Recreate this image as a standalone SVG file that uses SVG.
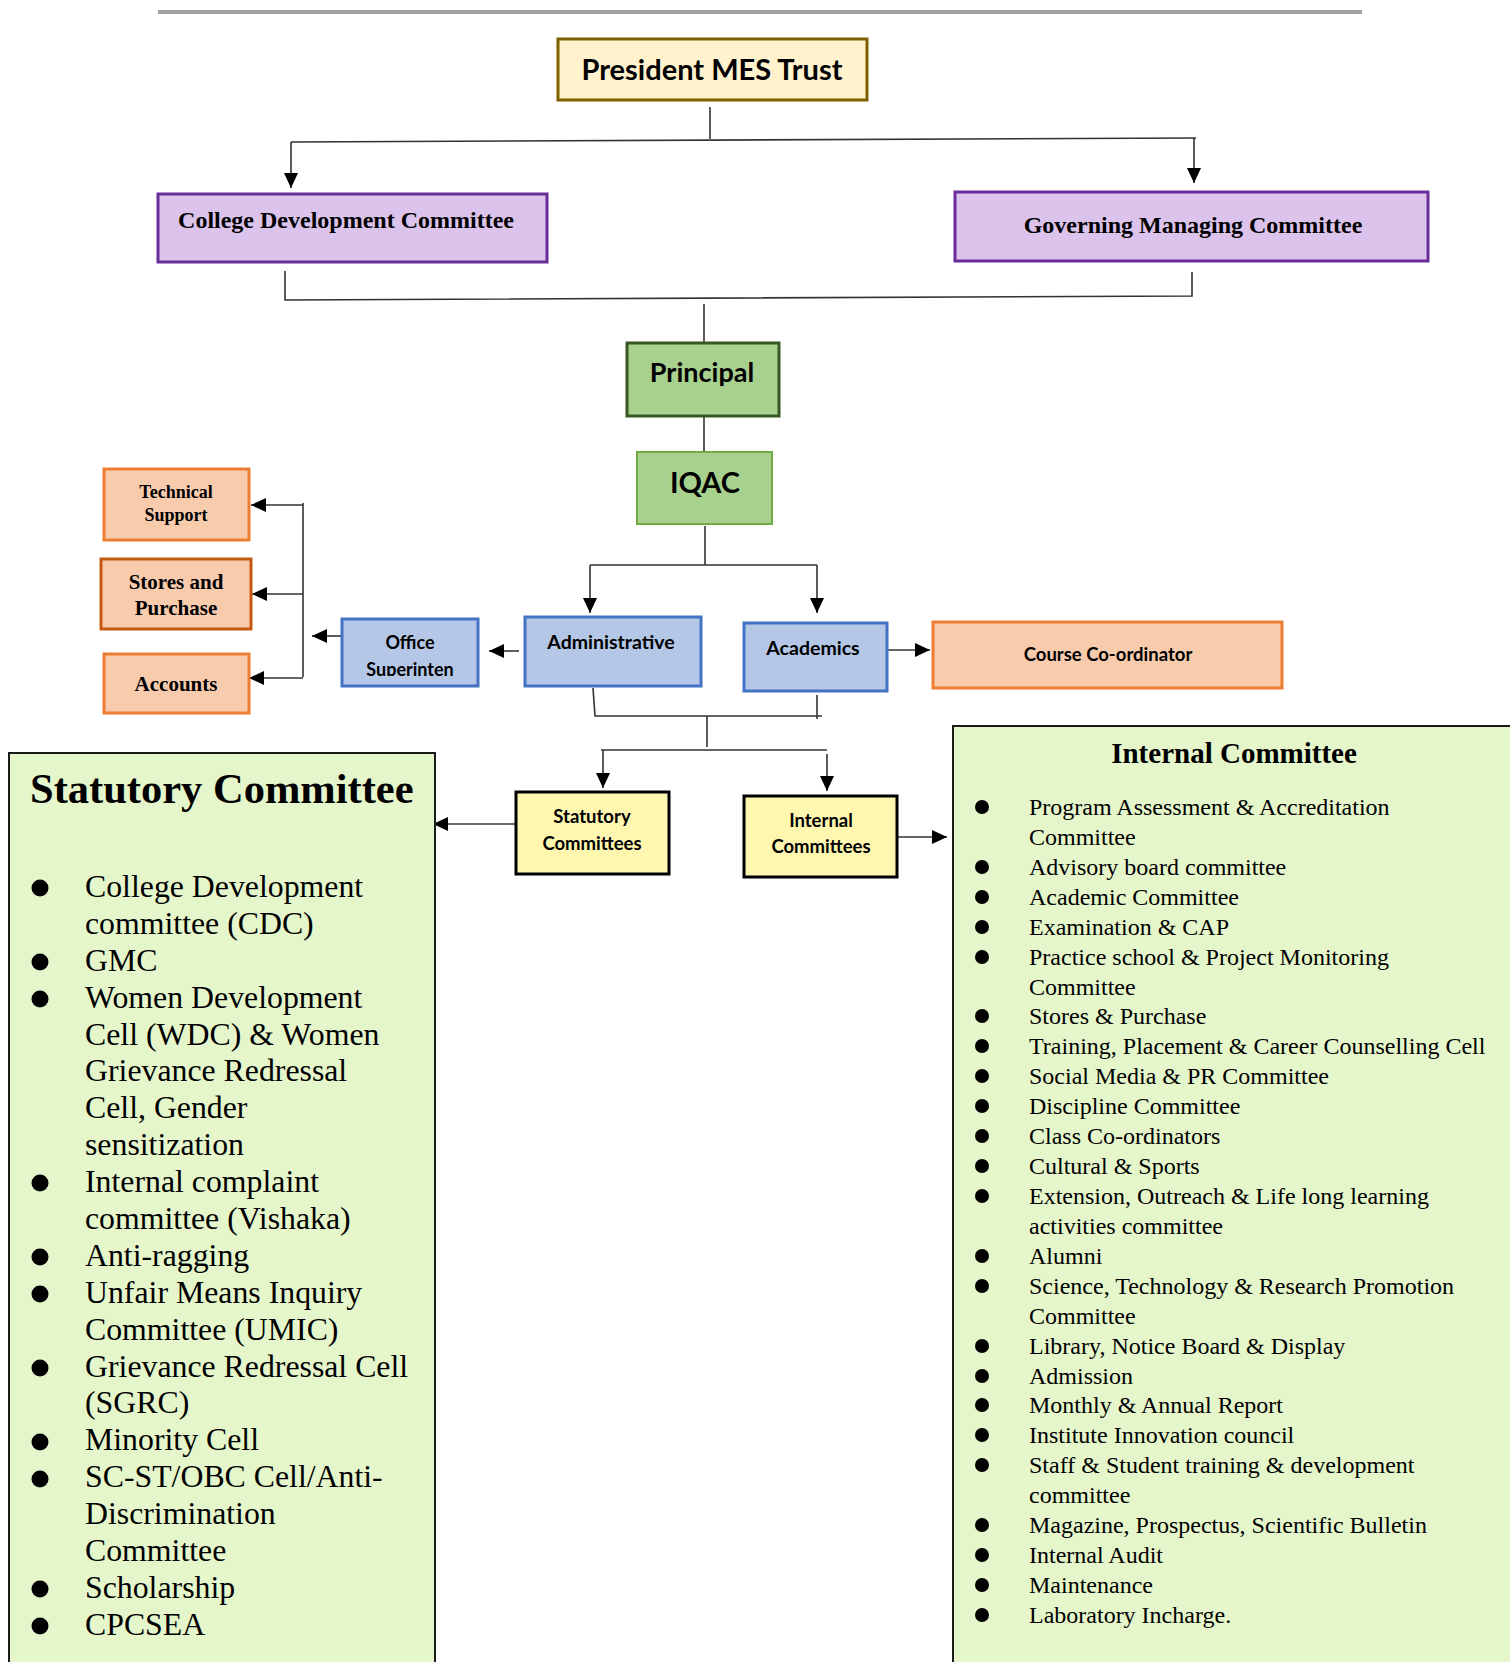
<svg xmlns="http://www.w3.org/2000/svg" width="1510" height="1662" viewBox="0 0 1510 1662">
<defs>
<style>
.sans{font-family:Lato,"Open Sans","Liberation Sans",sans-serif;font-weight:bold;fill:#000}
.serifb{font-family:"Liberation Serif","Times New Roman",serif;font-weight:bold;fill:#000}
.serif{font-family:"Liberation Serif","Times New Roman",serif;fill:#000}
.ln{fill:none;stroke:#333;stroke-width:1.6}
.ar{fill:none;stroke:#333;stroke-width:1.6;marker-end:url(#ah)}
.blue{fill:#b4c7e7;stroke:#4472c4;stroke-width:3}
.orange{fill:#f8cbad;stroke:#ed7d31;stroke-width:3}
.purple{fill:#dcc3ec;stroke:#6a2c9a;stroke-width:3}
.yellow{fill:#fff6b0;stroke:#000;stroke-width:3}
.panel{fill:#e6f6cb;stroke:#1a1a1a;stroke-width:2}
.b1{fill:#000}
.st{font-size:31.8px}
.it{font-size:24px}
</style>
<marker id="ah" markerUnits="userSpaceOnUse" markerWidth="16" markerHeight="14" refX="15" refY="7" orient="auto">
<path d="M0,0 L15,7 L0,14 z" fill="#000"/>
</marker>
<clipPath id="offclip"><rect x="342" y="619" width="136" height="57"/></clipPath>
</defs>
<rect x="0" y="0" width="1510" height="1662" fill="#fff"/>
<line x1="158" y1="12" x2="1362" y2="12" stroke="#a0a0a0" stroke-width="4"/>

<g id="connectors">
<path class="ln" d="M710,107 V139"/>
<path class="ln" d="M291,142 L1196,138"/>
<path class="ar" d="M291,142 V188"/>
<path class="ar" d="M1194,138 V183"/>
<path class="ln" d="M285,271 V300 L1192,296 V272"/>
<path class="ln" d="M704,304 V343"/>
<path class="ln" d="M704,417 V451"/>
<path class="ln" d="M705,526 V565"/>
<path class="ln" d="M590,565 H817"/>
<path class="ar" d="M590,565 V613"/>
<path class="ar" d="M817,565 V613"/>
<path class="ar" d="M519,651 H489"/>
<path class="ar" d="M342,636 H312"/>
<path class="ln" d="M303,503 V677"/>
<path class="ar" d="M303,505 H251"/>
<path class="ar" d="M303,594 H252"/>
<path class="ar" d="M303,678 H249"/>
<path class="ar" d="M887,650 H930"/>
<path class="ln" d="M593,688 L595,716 H822"/>
<path class="ln" d="M817,695 V719"/>
<path class="ln" d="M707,716 V747"/>
<path class="ln" d="M601,750 H827"/>
<path class="ar" d="M603,750 V788"/>
<path class="ar" d="M827,754 V791"/>
<path class="ar" d="M516,824 H433"/>
<path class="ar" d="M897,837 H947"/>
</g>

<g id="president">
<rect x="558" y="39" width="309" height="61" fill="#fff2cc" stroke="#7f6000" stroke-width="3"/>
<text class="sans" x="712" y="80" font-size="29" text-anchor="middle">President MES Trust</text>
</g>

<g id="cdc">
<rect x="158" y="194" width="389" height="68" class="purple"/>
<text class="serifb" x="346" y="228" font-size="24" text-anchor="middle">College Development Committee</text>
</g>

<g id="gmc">
<rect x="955" y="192" width="473" height="69" class="purple"/>
<text class="serifb" x="1193" y="233" font-size="24" text-anchor="middle">Governing Managing Committee</text>
</g>

<g id="principal">
<rect x="627" y="343" width="152" height="73" fill="#a9d18e" stroke="#385723" stroke-width="3"/>
<text class="sans" x="702" y="382" font-size="27" text-anchor="middle">Principal</text>
</g>

<g id="iqac">
<rect x="637" y="452" width="135" height="72" fill="#a9d18e" stroke="#70ad47" stroke-width="2"/>
<text class="sans" x="705" y="493" font-size="29" text-anchor="middle">IQAC</text>
</g>

<g id="technical-support">
<rect x="104" y="469" width="145" height="71" class="orange"/>
<text class="serifb" x="176" y="498" font-size="18" text-anchor="middle">Technical</text>
<text class="serifb" x="176" y="521" font-size="18" text-anchor="middle">Support</text>
</g>

<g id="stores-purchase">
<rect x="101" y="559" width="150" height="70" fill="#f8cbad" stroke="#c55a11" stroke-width="3"/>
<text class="serifb" x="176" y="589" font-size="21" text-anchor="middle">Stores and</text>
<text class="serifb" x="176" y="615" font-size="21" text-anchor="middle">Purchase</text>
</g>

<g id="accounts">
<rect x="104" y="654" width="145" height="59" class="orange"/>
<text class="serifb" x="176" y="691" font-size="21" text-anchor="middle">Accounts</text>
</g>

<g id="office-superintendent">
<rect x="342" y="619" width="136" height="67" class="blue"/>
<g clip-path="url(#offclip)">
<text class="sans" x="410" y="649" font-size="18" text-anchor="middle">Office</text>
<text class="sans" x="410" y="676" font-size="18" text-anchor="middle">Superinten</text>
</g>
</g>

<g id="administrative">
<rect x="525" y="617" width="176" height="69" class="blue"/>
<text class="sans" x="611" y="649" font-size="19.5" text-anchor="middle">Administrative</text>
</g>

<g id="academics">
<rect x="744" y="623" width="143" height="68" class="blue"/>
<text class="sans" x="813" y="655" font-size="19.5" text-anchor="middle">Academics</text>
</g>

<g id="course-coordinator">
<rect x="933" y="622" width="349" height="66" class="orange"/>
<text class="sans" x="1108" y="661" font-size="18.5" text-anchor="middle">Course Co-ordinator</text>
</g>

<g id="statutory-committees">
<rect x="516" y="792" width="153" height="82" class="yellow"/>
<text class="sans" x="592" y="823" font-size="18.5" text-anchor="middle">Statutory</text>
<text class="sans" x="592" y="850" font-size="18.5" text-anchor="middle">Committees</text>
</g>

<g id="internal-committees">
<rect x="744" y="796" width="153" height="81" class="yellow"/>
<text class="sans" x="821" y="827" font-size="18.5" text-anchor="middle">Internal</text>
<text class="sans" x="821" y="853" font-size="18.5" text-anchor="middle">Committees</text>
</g>

<g id="statutory-committee-list">
<rect x="9" y="753" width="426" height="960" class="panel"/>
<text class="serifb" x="30" y="803" font-size="42.5">Statutory Committee</text>
<g class="b1">
<circle cx="40" cy="888" r="8.5"/>
<circle cx="40" cy="962" r="8.5"/>
<circle cx="40" cy="999" r="8.5"/>
<circle cx="40" cy="1183" r="8.5"/>
<circle cx="40" cy="1257" r="8.5"/>
<circle cx="40" cy="1294" r="8.5"/>
<circle cx="40" cy="1368" r="8.5"/>
<circle cx="40" cy="1442" r="8.5"/>
<circle cx="40" cy="1479" r="8.5"/>
<circle cx="40" cy="1589" r="8.5"/>
<circle cx="40" cy="1626" r="8.5"/>
</g>
<g class="serif st">
<text x="85" y="897">College Development</text>
<text x="85" y="934">committee (CDC)</text>
<text x="85" y="971">GMC</text>
<text x="85" y="1008">Women Development</text>
<text x="85" y="1045">Cell (WDC) &amp; Women</text>
<text x="85" y="1081">Grievance Redressal</text>
<text x="85" y="1118">Cell, Gender</text>
<text x="85" y="1155">sensitization</text>
<text x="85" y="1192">Internal complaint</text>
<text x="85" y="1229">committee (Vishaka)</text>
<text x="85" y="1266">Anti-ragging</text>
<text x="85" y="1303">Unfair Means Inquiry</text>
<text x="85" y="1340">Committee (UMIC)</text>
<text x="85" y="1377">Grievance Redressal Cell</text>
<text x="85" y="1413">(SGRC)</text>
<text x="85" y="1450">Minority Cell</text>
<text x="85" y="1487">SC-ST/OBC Cell/Anti-</text>
<text x="85" y="1524">Discrimination</text>
<text x="85" y="1561">Committee</text>
<text x="85" y="1598">Scholarship</text>
<text x="85" y="1635">CPCSEA</text>
</g>
</g>

<g id="internal-committee-list">
<rect x="953" y="726" width="620" height="1000" class="panel"/>
<text class="serifb" x="1234" y="763" font-size="29" text-anchor="middle">Internal Committee</text>
<g class="b1">
<circle cx="982" cy="807" r="7"/>
<circle cx="982" cy="867" r="7"/>
<circle cx="982" cy="897" r="7"/>
<circle cx="982" cy="927" r="7"/>
<circle cx="982" cy="957" r="7"/>
<circle cx="982" cy="1016" r="7"/>
<circle cx="982" cy="1046" r="7"/>
<circle cx="982" cy="1076" r="7"/>
<circle cx="982" cy="1106" r="7"/>
<circle cx="982" cy="1136" r="7"/>
<circle cx="982" cy="1166" r="7"/>
<circle cx="982" cy="1196" r="7"/>
<circle cx="982" cy="1256" r="7"/>
<circle cx="982" cy="1286" r="7"/>
<circle cx="982" cy="1346" r="7"/>
<circle cx="982" cy="1376" r="7"/>
<circle cx="982" cy="1405" r="7"/>
<circle cx="982" cy="1435" r="7"/>
<circle cx="982" cy="1465" r="7"/>
<circle cx="982" cy="1525" r="7"/>
<circle cx="982" cy="1555" r="7"/>
<circle cx="982" cy="1585" r="7"/>
<circle cx="982" cy="1615" r="7"/>
</g>
<g class="serif it">
<text x="1029" y="815">Program Assessment &amp; Accreditation</text>
<text x="1029" y="845">Committee</text>
<text x="1029" y="875">Advisory board committee</text>
<text x="1029" y="905">Academic Committee</text>
<text x="1029" y="935">Examination &amp; CAP</text>
<text x="1029" y="965">Practice school &amp; Project Monitoring</text>
<text x="1029" y="995">Committee</text>
<text x="1029" y="1024">Stores &amp; Purchase</text>
<text x="1029" y="1054">Training, Placement &amp; Career Counselling Cell</text>
<text x="1029" y="1084">Social Media &amp; PR Committee</text>
<text x="1029" y="1114">Discipline Committee</text>
<text x="1029" y="1144">Class Co-ordinators</text>
<text x="1029" y="1174">Cultural &amp; Sports</text>
<text x="1029" y="1204">Extension, Outreach &amp; Life long learning</text>
<text x="1029" y="1234">activities committee</text>
<text x="1029" y="1264">Alumni</text>
<text x="1029" y="1294">Science, Technology &amp; Research Promotion</text>
<text x="1029" y="1324">Committee</text>
<text x="1029" y="1354">Library, Notice Board &amp; Display</text>
<text x="1029" y="1384">Admission</text>
<text x="1029" y="1413">Monthly &amp; Annual Report</text>
<text x="1029" y="1443">Institute Innovation council</text>
<text x="1029" y="1473">Staff &amp; Student training &amp; development</text>
<text x="1029" y="1503">committee</text>
<text x="1029" y="1533">Magazine, Prospectus, Scientific Bulletin</text>
<text x="1029" y="1563">Internal Audit</text>
<text x="1029" y="1593">Maintenance</text>
<text x="1029" y="1623">Laboratory Incharge.</text>
</g>
</g>
</svg>
